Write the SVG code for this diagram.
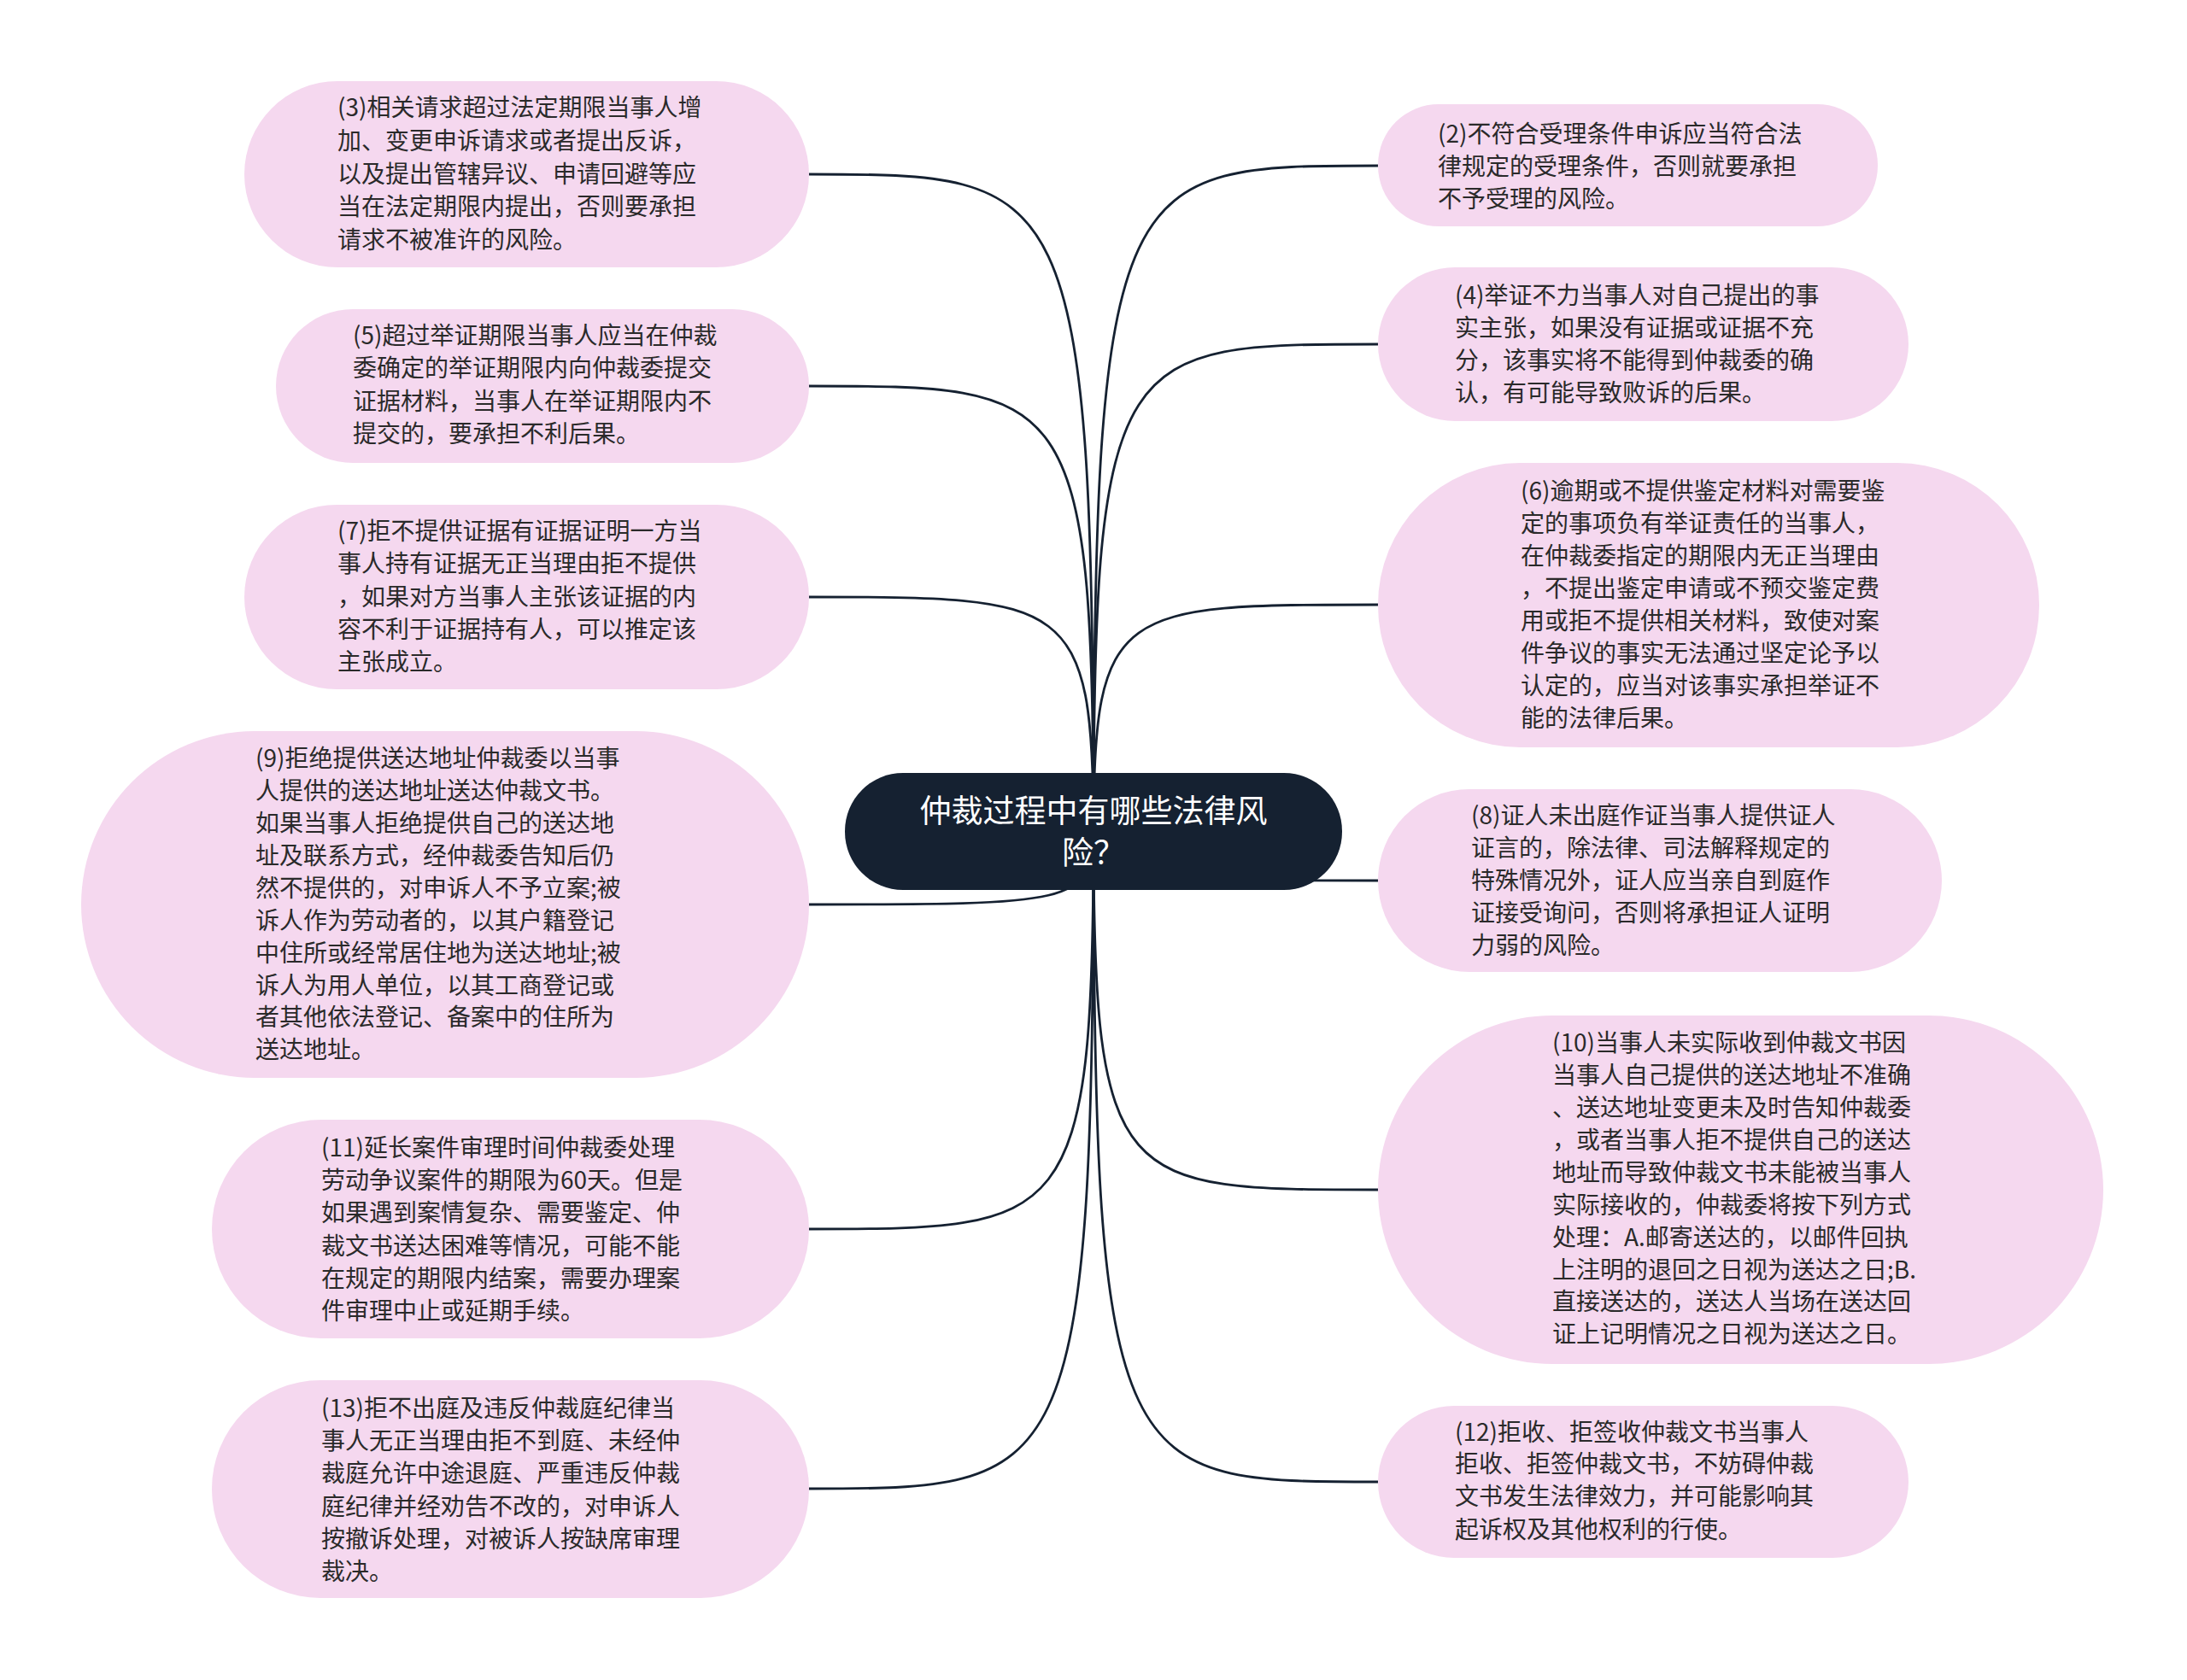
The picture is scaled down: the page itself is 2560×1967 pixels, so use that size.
<svg xmlns="http://www.w3.org/2000/svg" width="2560" height="1967" viewBox="0 0 2560 1967">
<style>
.bg{fill:#ffffff}
.node rect{fill:#f5d8ef}
.node text{font-family:"Noto Sans CJK SC","Noto Sans",sans-serif;font-size:28px;fill:#2a2a2a}
.center rect{fill:#152131}
.center text{font-family:"Noto Sans CJK SC","Noto Sans",sans-serif;font-size:37px;fill:#ffffff;text-anchor:middle}
.conn path{fill:none;stroke:#152131;stroke-width:2.8}
</style>
<rect class="bg" x="0" y="0" width="2560" height="1967"/>
<g id="connectors" class="conn">
<path d="M1280 973 C1280 204 1250 204 947 204"/>
<path d="M1280 973 C1280 452 1250 452 947 452"/>
<path d="M1280 973 C1280 699 1250 699 947 699"/>
<path d="M1280 973 C1280 1059 1250 1059 947 1059"/>
<path d="M1280 973 C1280 1439 1250 1439 947 1439"/>
<path d="M1280 973 C1280 1743 1250 1743 947 1743"/>
<path d="M1280 973 C1280 194 1310 194 1613 194"/>
<path d="M1280 973 C1280 403 1310 403 1613 403"/>
<path d="M1280 973 C1280 708 1310 708 1613 708"/>
<path d="M1280 973 C1280 1031 1310 1031 1613 1031"/>
<path d="M1280 973 C1280 1393 1310 1393 1613 1393"/>
<path d="M1280 973 C1280 1735 1310 1735 1613 1735"/>
</g>
<g id="center" class="center">
<rect x="989" y="905" width="582" height="137" rx="68" ry="68"/>
<text x="1280" y="963"><tspan x="1280" y="963">仲裁过程中有哪些法律风</tspan><tspan x="1280" y="1012">险？</tspan></text>
</g>
<g id="n3" class="node">
<rect x="286" y="95" width="661" height="218" rx="109" ry="109"/>
<text x="395" y="136">(3)相关请求超过法定期限当事人增</text>
<text x="395" y="175">加、变更申诉请求或者提出反诉，</text>
<text x="395" y="214">以及提出管辖异议、申请回避等应</text>
<text x="395" y="252">当在法定期限内提出，否则要承担</text>
<text x="395" y="291">请求不被准许的风险。</text>
</g>
<g id="n5" class="node">
<rect x="323" y="362" width="624" height="180" rx="90" ry="90"/>
<text x="413" y="403">(5)超过举证期限当事人应当在仲裁</text>
<text x="413" y="441">委确定的举证期限内向仲裁委提交</text>
<text x="413" y="480">证据材料，当事人在举证期限内不</text>
<text x="413" y="518">提交的，要承担不利后果。</text>
</g>
<g id="n7" class="node">
<rect x="286" y="591" width="661" height="216" rx="108" ry="108"/>
<text x="395" y="632">(7)拒不提供证据有证据证明一方当</text>
<text x="395" y="670">事人持有证据无正当理由拒不提供</text>
<text x="395" y="709">，如果对方当事人主张该证据的内</text>
<text x="395" y="747">容不利于证据持有人，可以推定该</text>
<text x="395" y="785">主张成立。</text>
</g>
<g id="n9" class="node">
<rect x="95" y="856" width="852" height="406" rx="203" ry="203"/>
<text x="299" y="898">(9)拒绝提供送达地址仲裁委以当事</text>
<text x="299" y="936">人提供的送达地址送达仲裁文书。</text>
<text x="299" y="974">如果当事人拒绝提供自己的送达地</text>
<text x="299" y="1012">址及联系方式，经仲裁委告知后仍</text>
<text x="299" y="1050">然不提供的，对申诉人不予立案;被</text>
<text x="299" y="1088">诉人作为劳动者的，以其户籍登记</text>
<text x="299" y="1126">中住所或经常居住地为送达地址;被</text>
<text x="299" y="1164">诉人为用人单位，以其工商登记或</text>
<text x="299" y="1201">者其他依法登记、备案中的住所为</text>
<text x="299" y="1239">送达地址。</text>
</g>
<g id="n11" class="node">
<rect x="248" y="1311" width="699" height="256" rx="128" ry="128"/>
<text x="376" y="1354">(11)延长案件审理时间仲裁委处理</text>
<text x="376" y="1392">劳动争议案件的期限为60天。但是</text>
<text x="376" y="1430">如果遇到案情复杂、需要鉴定、仲</text>
<text x="376" y="1469">裁文书送达困难等情况，可能不能</text>
<text x="376" y="1507">在规定的期限内结案，需要办理案</text>
<text x="376" y="1545">件审理中止或延期手续。</text>
</g>
<g id="n13" class="node">
<rect x="248" y="1616" width="699" height="255" rx="127" ry="127"/>
<text x="376" y="1659">(13)拒不出庭及违反仲裁庭纪律当</text>
<text x="376" y="1697">事人无正当理由拒不到庭、未经仲</text>
<text x="376" y="1735">裁庭允许中途退庭、严重违反仲裁</text>
<text x="376" y="1774">庭纪律并经劝告不改的，对申诉人</text>
<text x="376" y="1812">按撤诉处理，对被诉人按缺席审理</text>
<text x="376" y="1850">裁决。</text>
</g>
<g id="n2" class="node">
<rect x="1613" y="122" width="585" height="143" rx="71" ry="71"/>
<text x="1683" y="167">(2)不符合受理条件申诉应当符合法</text>
<text x="1683" y="205">律规定的受理条件，否则就要承担</text>
<text x="1683" y="243">不予受理的风险。</text>
</g>
<g id="n4" class="node">
<rect x="1613" y="313" width="621" height="180" rx="90" ry="90"/>
<text x="1703" y="356">(4)举证不力当事人对自己提出的事</text>
<text x="1703" y="394">实主张，如果没有证据或证据不充</text>
<text x="1703" y="432">分，该事实将不能得到仲裁委的确</text>
<text x="1703" y="470">认，有可能导致败诉的后果。</text>
</g>
<g id="n6" class="node">
<rect x="1613" y="542" width="774" height="333" rx="166" ry="166"/>
<text x="1780" y="585">(6)逾期或不提供鉴定材料对需要鉴</text>
<text x="1780" y="623">定的事项负有举证责任的当事人，</text>
<text x="1780" y="661">在仲裁委指定的期限内无正当理由</text>
<text x="1780" y="699">，不提出鉴定申请或不预交鉴定费</text>
<text x="1780" y="737">用或拒不提供相关材料，致使对案</text>
<text x="1780" y="775">件争议的事实无法通过坚定论予以</text>
<text x="1780" y="813">认定的，应当对该事实承担举证不</text>
<text x="1780" y="851">能的法律后果。</text>
</g>
<g id="n8" class="node">
<rect x="1613" y="924" width="660" height="214" rx="107" ry="107"/>
<text x="1722" y="965">(8)证人未出庭作证当事人提供证人</text>
<text x="1722" y="1003">证言的，除法律、司法解释规定的</text>
<text x="1722" y="1041">特殊情况外，证人应当亲自到庭作</text>
<text x="1722" y="1079">证接受询问，否则将承担证人证明</text>
<text x="1722" y="1117">力弱的风险。</text>
</g>
<g id="n10" class="node">
<rect x="1613" y="1189" width="849" height="408" rx="204" ry="204"/>
<text x="1817" y="1231">(10)当事人未实际收到仲裁文书因</text>
<text x="1817" y="1269">当事人自己提供的送达地址不准确</text>
<text x="1817" y="1307">、送达地址变更未及时告知仲裁委</text>
<text x="1817" y="1345">，或者当事人拒不提供自己的送达</text>
<text x="1817" y="1383">地址而导致仲裁文书未能被当事人</text>
<text x="1817" y="1421">实际接收的，仲裁委将按下列方式</text>
<text x="1817" y="1459">处理：A.邮寄送达的，以邮件回执</text>
<text x="1817" y="1497">上注明的退回之日视为送达之日;B.</text>
<text x="1817" y="1534">直接送达的，送达人当场在送达回</text>
<text x="1817" y="1572">证上记明情况之日视为送达之日。</text>
</g>
<g id="n12" class="node">
<rect x="1613" y="1646" width="621" height="178" rx="89" ry="89"/>
<text x="1703" y="1687">(12)拒收、拒签收仲裁文书当事人</text>
<text x="1703" y="1724">拒收、拒签仲裁文书，不妨碍仲裁</text>
<text x="1703" y="1762">文书发生法律效力，并可能影响其</text>
<text x="1703" y="1801">起诉权及其他权利的行使。</text>
</g>
</svg>
